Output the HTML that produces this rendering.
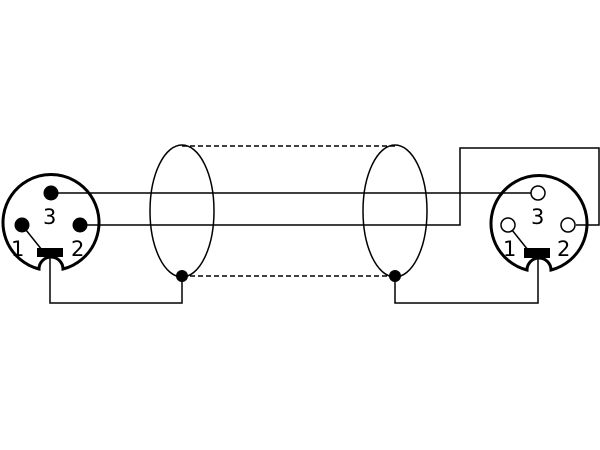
<!DOCTYPE html>
<html><head><style>body{margin:0;background:#fff}svg{display:block}</style></head><body>
<svg width="600" height="450" viewBox="0 0 600 450" xmlns="http://www.w3.org/2000/svg">
<g fill="none" stroke="#000" stroke-width="3">
<path d="M39,269 A48,48 0 1 1 63,269 A12,12 0 0 0 39,269 Z"/>
<path d="M527,270 A48,48 0 1 1 551,270 A12,12 0 0 0 527,270 Z"/>
</g>
<g fill="none" stroke="#000" stroke-width="1.5">
<ellipse cx="182" cy="211" rx="32" ry="66"/>
<ellipse cx="395" cy="211" rx="32" ry="66"/>
<line x1="182" y1="146" x2="395" y2="146" stroke-dasharray="5,3"/>
<line x1="182" y1="276" x2="395" y2="276" stroke-dasharray="5,3"/>
<line x1="51" y1="193" x2="538" y2="193"/>
<polyline points="80,225 460,225 460,148 599,148 599,225 576,225"/>
<polyline points="50,257 50,303 182,303 182,276"/>
<polyline points="538,258 538,303 395,303 395,276"/>
<line x1="22" y1="225" x2="42" y2="250"/>
<line x1="508" y1="225" x2="528" y2="250"/>
</g>
<g fill="#000">
<circle cx="51" cy="193" r="7.5"/>
<circle cx="22" cy="225" r="7.5"/>
<circle cx="80" cy="225" r="7.5"/>
<rect x="37" y="248" width="26" height="9"/>
<rect x="524" y="248" width="26" height="10"/>
<circle cx="182" cy="276" r="6"/>
<circle cx="395" cy="276" r="6"/>
</g>
<g fill="#fff" stroke="#000" stroke-width="1.5">
<circle cx="538" cy="193" r="7"/>
<circle cx="508" cy="225" r="7"/>
<circle cx="568" cy="225" r="7"/>
</g>
<g font-family="DejaVu Sans, sans-serif" font-size="21" fill="#000">
<text x="43" y="224">3</text>
<text x="11" y="256">1</text>
<text x="71" y="256">2</text>
<text x="531" y="224">3</text>
<text x="503" y="256">1</text>
<text x="557" y="256">2</text>
</g>
</svg>
</body></html>
